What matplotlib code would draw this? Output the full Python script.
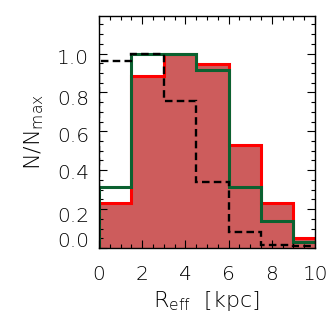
import matplotlib
matplotlib.use("Agg")
import matplotlib.pyplot as plt
import matplotlib.transforms as mtransforms
import numpy as np

bin_edges = [0, 1.5, 3.0, 4.5, 6.0, 7.5, 9.0, 10.5]
red_vals = [0.233, 0.883, 1.0, 0.945, 0.529, 0.233, 0.053]
green_vals = [0.315, 1.0, 1.0, 0.914, 0.315, 0.139, 0.029]
black_vals = [0.96, 1.0, 0.757, 0.34, 0.084, 0.015, 0.01]
xticks = [0, 2, 4, 6, 8, 10]
yticks = [0.0, 0.2, 0.4, 0.6, 0.8, 1.0]
ytick_labels = ["0.0", "0.2", "0.4", "0.6", "0.8", "1.0"]

plt.rcParams['font.family'] = ['DejaVu Sans']
plt.rcParams['font.weight'] = 'light'
plt.rcParams['mathtext.fontset'] = 'custom'
plt.rcParams['mathtext.rm'] = 'DejaVu Sans:light'

fig = plt.figure(figsize=(3.32, 3.32), dpi=100)
ax = fig.add_axes([0.298, 0.253, 0.651, 0.700])

ax.stairs(red_vals, bin_edges, fill=True, color='#CD5C5C', zorder=1)
ax.stairs(red_vals, bin_edges, color='#FF0000', linewidth=2.2, zorder=2)
ax.stairs(green_vals, bin_edges, color='#0B6130', linewidth=2.2, zorder=3)
ax.stairs(black_vals, bin_edges, color='black', linewidth=1.7,
          linestyle=(0, (3.2, 1.8)), zorder=4)

ax.set_xlim(0, 10)
ax.set_ylim(0, 1.195)
ax.set_xticks(xticks)
ax.set_xticks(np.arange(0, 10.01, 0.5), minor=True)
ax.set_yticks(yticks)
ax.set_yticklabels(ytick_labels)
ax.set_yticks(np.arange(0, 1.19, 0.05), minor=True)
ax.tick_params(which='both', direction='in', top=True, right=True,
               labelsize=14.5, width=0.8, colors='black')
ax.tick_params(which='major', length=6, pad=7)
ax.tick_params(which='minor', length=3)
ax.tick_params(axis='x', which='major', pad=12)
for lab in ax.get_xticklabels() + ax.get_yticklabels():
    lab.set_fontweight('light')

offsets = {"0.0": -9, "0.2": 5, "0.4": 1.5, "0.6": 3, "0.8": 5, "1.0": 3}
for lab in ax.get_yticklabels():
    dy = offsets.get(lab.get_text(), 0)
    lab.set_transform(lab.get_transform() +
                      mtransforms.ScaledTranslation(0, -dy / 100, fig.dpi_scale_trans))

for sp in ax.spines.values():
    sp.set_linewidth(1.0)
    sp.set_zorder(5)

ax.set_xlabel(r"R$_{\rm eff}$  [kpc]", fontsize=16, labelpad=4, fontweight='light')
ax.set_ylabel(r"N/N$_{\rm max}$", fontsize=16, labelpad=8, fontweight='light')

fig.savefig("out.png", dpi=100)
